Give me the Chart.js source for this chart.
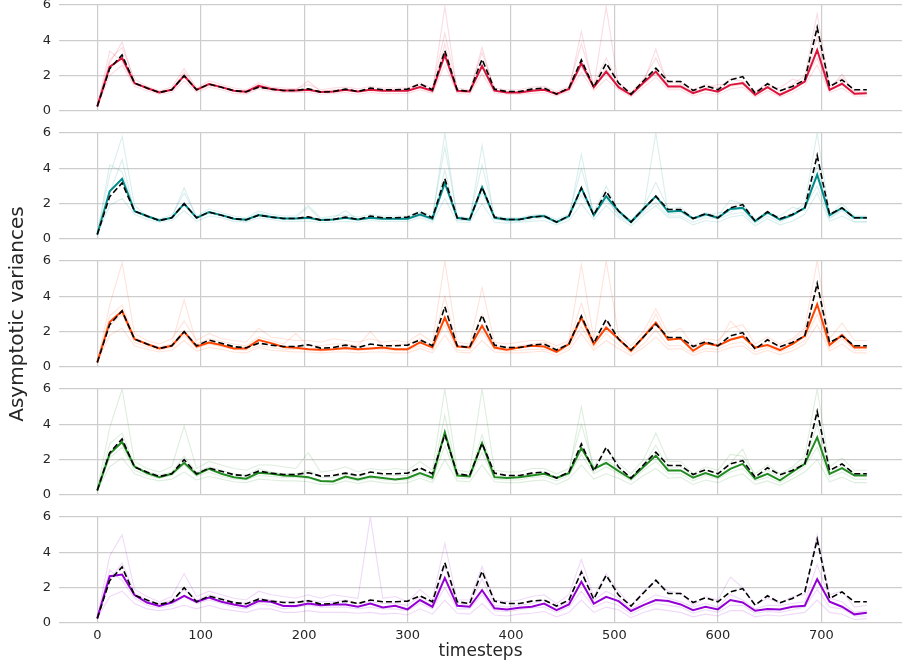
<!DOCTYPE html>
<html><head><meta charset="utf-8">
<script src="https://cdn.jsdelivr.net/npm/chart.js@4.4.1/dist/chart.umd.min.js"></script>
<style>
html,body{margin:0;padding:0;background:#fff;overflow:hidden;width:902px;height:670px;position:relative}
canvas{position:absolute;left:0;top:0}
</style></head><body>
<canvas id="c0" width="902" height="670"></canvas>
<canvas id="c1" width="902" height="670"></canvas>
<canvas id="c2" width="902" height="670"></canvas>
<canvas id="c3" width="902" height="670"></canvas>
<canvas id="c4" width="902" height="670"></canvas>
<script>
const timesteps = [0,12,24,36,48,60,72,84,96,108,
  120,132,144,156,168,180,192,204,216,228,
  240,252,264,276,288,300,312,324,336,348,
  360,372,384,396,408,420,432,444,456,468,
  480,492,504,516,528,540,552,564,576,588,
  600,612,624,636,648,660,672,684,696,708,
  720,732,744];
const xTicks = [0,100,200,300,400,500,600,700];
const yTicks = [0,2,4,6];

// true asymptotic variance (dashed black, same in every panel)
const trueVariance = [0.26,2.4,3.17,1.58,1.3,1.05,1.2,2.0,1.2,1.52,
  1.35,1.15,1.09,1.35,1.24,1.16,1.16,1.26,1.07,1.1,
  1.24,1.1,1.3,1.2,1.2,1.24,1.54,1.2,3.41,1.2,
  1.1,2.93,1.24,1.1,1.1,1.24,1.3,0.96,1.3,2.89,
  1.35,2.7,1.58,0.96,1.7,2.42,1.67,1.67,1.16,1.43,
  1.2,1.76,1.95,1.01,1.54,1.14,1.39,1.76,4.73,1.39,
  1.76,1.2,1.2];

// mean estimates per panel
const redMean = [0.26,2.5,3.0,1.58,1.3,1.05,1.2,2.0,1.2,1.52,
  1.35,1.15,1.09,1.42,1.24,1.16,1.16,1.2,1.07,1.1,
  1.2,1.1,1.2,1.15,1.15,1.15,1.35,1.15,3.17,1.15,
  1.1,2.55,1.15,1.05,1.05,1.15,1.2,0.96,1.25,2.7,
  1.35,2.23,1.35,0.92,1.6,2.23,1.39,1.39,1.01,1.24,
  1.09,1.48,1.58,0.92,1.35,0.92,1.24,1.67,3.45,1.2,
  1.54,0.98,1.01];
const tealMean = [0.26,2.7,3.41,1.58,1.3,1.05,1.2,2.0,1.2,1.52,
  1.35,1.15,1.09,1.35,1.24,1.16,1.16,1.2,1.07,1.1,
  1.2,1.1,1.2,1.15,1.15,1.15,1.39,1.15,3.17,1.2,
  1.1,2.93,1.2,1.1,1.1,1.24,1.3,0.96,1.3,2.89,
  1.35,2.42,1.58,0.96,1.7,2.42,1.54,1.6,1.16,1.4,
  1.2,1.7,1.76,1.01,1.5,1.1,1.35,1.76,3.64,1.35,
  1.76,1.2,1.2];
const orangeMean = [0.26,2.55,3.17,1.58,1.3,1.05,1.2,2.0,1.16,1.39,
  1.24,1.05,1.05,1.52,1.35,1.13,1.09,1.01,0.98,1.01,
  1.07,1.01,1.05,1.1,1.01,1.01,1.39,1.1,2.8,1.16,
  1.1,2.33,1.1,0.98,1.1,1.2,1.16,0.86,1.3,2.8,
  1.3,2.23,1.58,0.92,1.7,2.51,1.54,1.61,0.92,1.35,
  1.2,1.54,1.73,1.1,1.24,0.96,1.3,1.76,3.55,1.24,
  1.8,1.1,1.1];
const greenMean = [0.26,2.33,3.0,1.61,1.24,1.01,1.2,1.82,1.16,1.48,
  1.2,1.01,0.92,1.26,1.2,1.1,1.07,1.01,0.79,0.77,
  1.05,0.88,1.05,0.96,0.88,0.96,1.24,0.98,3.55,1.1,
  1.05,2.93,1.01,0.96,1.01,1.1,1.2,0.96,1.24,2.66,
  1.48,1.82,1.35,0.92,1.58,2.23,1.39,1.39,0.98,1.24,
  1.01,1.48,1.76,0.92,1.2,0.83,1.3,1.76,3.26,1.2,
  1.52,1.1,1.1];
const purpleMean = [0.26,2.65,2.74,1.58,1.16,0.96,1.16,1.54,1.2,1.44,
  1.2,1.05,0.92,1.24,1.2,0.96,0.96,1.1,1.01,1.05,
  1.05,0.92,1.1,0.88,0.98,0.77,1.3,0.92,2.55,0.98,
  0.92,1.86,0.83,0.77,0.86,0.92,1.1,0.73,1.05,2.33,
  1.1,1.48,1.24,0.68,1.01,1.3,1.24,1.05,0.73,0.92,
  0.77,1.3,1.16,0.69,0.79,0.77,0.92,0.98,2.48,1.2,
  0.92,0.49,0.58];

// individual runs (faint lines), estimated
const redRuns = [
 [0.3,2.9,3.6,1.8,1.4,1.15,1.35,2.4,1.3,1.7, 1.5,1.3,1.2,1.6,1.35,1.3,1.25,1.5,1.2,1.3, 1.35,1.25,1.4,1.3,1.3,1.3,1.6,1.3,4.4,1.3, 1.2,3.3,1.3,1.2,1.2,1.35,1.4,1.1,1.4,3.8, 1.5,3.0,1.6,1.05,1.8,3.0,1.6,1.6,1.2,1.5, 1.3,1.8,1.7,1.1,1.6,1.1,1.5,2.0,5.5,1.4, 1.9,1.1,1.2],
 [0.25,2.0,2.6,1.4,1.15,0.95,1.05,1.7,1.05,1.35, 1.2,1.0,0.95,1.25,1.1,1.05,1.05,1.05,0.95,1.0, 1.05,0.95,1.05,1.0,1.0,1.0,1.2,1.0,2.6,1.0, 0.95,2.1,1.0,0.95,0.95,1.0,1.05,0.85,1.1,2.2, 1.15,1.8,1.2,0.8,1.35,1.9,1.2,1.2,0.85,1.05, 0.95,1.25,1.35,0.8,1.15,0.8,1.05,1.45,2.6,1.05, 1.3,0.85,0.85],
 [0.28,2.7,3.9,1.6,1.25,1.1,1.2,2.2,1.25,1.55, 1.4,1.2,1.1,1.5,1.3,1.2,1.2,1.7,1.1,1.2, 1.2,1.1,1.25,1.2,1.15,1.2,1.5,1.1,5.9,1.1, 1.15,2.6,1.2,1.0,1.1,1.2,1.3,0.95,1.3,2.5, 1.4,5.9,1.4,0.95,1.6,3.5,1.4,1.5,1.1,1.3, 1.5,1.5,1.6,1.0,1.4,1.3,1.8,1.6,4.2,1.2, 2.1,1.0,1.1],
 [0.27,3.4,2.8,1.5,1.3,1.0,1.25,1.9,1.15,1.45, 1.3,1.1,1.0,1.35,1.2,1.1,1.1,1.15,1.05,1.05, 1.15,1.05,1.15,1.1,1.1,1.1,1.3,1.05,3.8,1.05, 1.05,3.6,1.1,1.05,1.0,1.1,1.2,0.9,1.2,4.5, 1.25,2.4,1.3,0.9,1.5,2.1,1.3,1.3,0.95,1.2, 1.15,1.4,1.5,0.9,1.3,0.95,1.3,1.8,3.0,1.15, 1.6,0.95,1.0]
];
const tealRuns = [
 [0.3,3.6,5.8,1.9,1.3,1.15,1.35,2.6,1.3,1.7, 1.5,1.3,1.2,1.6,1.4,1.3,1.3,1.9,1.2,1.3, 1.35,1.25,1.4,1.3,1.3,1.3,1.6,1.3,5.2,1.3, 1.2,4.2,1.3,1.2,1.2,1.35,1.4,1.1,1.4,4.0, 1.5,3.0,1.6,1.05,1.8,3.2,1.7,1.8,1.2,1.5, 1.3,2.2,2.0,1.1,1.6,1.1,1.5,2.0,6.0,1.4, 2.0,1.3,1.3],
 [0.25,1.9,2.3,1.4,1.1,0.95,1.05,1.6,1.0,1.3, 1.2,1.0,0.95,1.2,1.1,1.0,1.0,1.0,0.95,0.95, 1.0,0.95,1.05,1.0,1.0,1.0,1.2,0.95,2.3,0.95, 0.95,2.0,0.95,0.9,0.95,1.0,1.05,0.8,1.05,2.0, 1.1,1.9,1.2,0.75,1.35,1.9,1.2,1.2,0.8,1.05, 0.95,1.25,1.35,0.75,1.15,0.8,1.0,1.4,2.6,1.0, 1.3,0.95,0.95],
 [0.28,4.2,3.8,1.6,1.2,1.1,1.2,2.9,1.2,1.5, 1.4,1.2,1.1,1.5,1.3,1.2,1.2,1.8,1.1,1.2, 1.6,1.1,1.25,1.2,1.15,1.2,1.5,1.1,6.0,1.1, 1.15,2.6,1.2,1.0,1.1,1.2,1.3,0.95,1.3,2.5, 1.4,2.2,1.4,0.95,1.6,6.0,1.4,1.5,1.1,1.3, 1.5,1.5,1.9,1.0,1.4,1.3,1.8,1.6,4.2,1.2, 1.7,1.2,1.2],
 [0.27,2.6,4.5,1.5,1.3,1.0,1.25,1.9,1.15,1.45, 1.3,1.1,1.0,1.35,1.2,1.1,1.1,1.15,1.05,1.05, 1.15,1.05,1.15,1.1,1.1,1.1,1.3,1.05,3.9,1.05, 1.05,5.3,1.1,1.05,1.0,1.1,1.2,0.9,1.2,4.8, 1.25,2.4,1.3,0.9,1.5,2.1,1.3,1.3,0.95,1.2, 1.15,1.4,1.5,0.9,1.3,0.95,1.3,1.8,3.0,1.15, 1.6,1.0,1.0]
];
const orangeRuns = [
 [0.3,3.5,5.9,1.9,1.5,1.3,1.6,2.6,1.5,1.9, 1.6,1.5,1.4,2.2,1.7,1.6,1.5,1.5,1.4,1.6, 1.5,1.4,1.6,1.4,1.5,1.4,1.9,1.4,6.0,1.4, 1.3,4.5,1.4,1.3,1.4,1.5,1.5,1.2,1.5,5.8, 1.6,6.0,1.8,1.2,2.0,3.3,1.9,2.2,1.2,1.6, 1.5,2.2,2.4,1.3,1.7,1.3,1.6,2.2,6.0,1.6, 2.5,1.5,1.5],
 [0.25,1.8,2.2,1.2,1.0,0.85,0.95,1.5,0.9,1.1, 1.0,0.85,0.8,1.1,0.95,0.9,0.85,0.85,0.8,0.85, 0.85,0.8,0.85,0.85,0.8,0.8,1.05,0.8,1.8,0.85, 0.8,1.5,0.85,0.8,0.8,0.85,0.9,0.65,0.95,1.9, 0.95,1.5,1.05,0.65,1.1,1.7,1.0,1.05,0.65,0.9, 0.85,1.1,1.2,0.7,0.95,0.7,0.9,1.3,2.4,0.9, 1.3,0.8,0.8],
 [0.28,2.9,3.5,1.7,1.3,1.15,1.3,3.8,1.3,1.6, 1.45,1.3,1.2,1.7,1.5,1.3,1.9,1.2,1.2,1.3, 1.3,1.2,2.0,1.2,1.25,1.3,1.6,1.2,4.0,1.2, 1.2,3.0,1.2,1.1,1.2,1.3,1.4,1.0,1.4,3.6, 1.4,2.6,1.5,1.0,1.6,3.0,1.5,1.6,1.1,1.4, 1.3,2.6,1.9,1.0,1.5,1.1,1.5,2.0,4.5,1.3, 1.9,1.1,1.2],
 [0.27,2.3,3.0,1.4,1.15,0.95,1.1,1.8,1.05,1.3, 1.15,1.0,0.95,1.2,1.1,1.0,1.0,1.05,0.9,1.0, 1.0,0.95,1.0,1.0,0.95,0.95,1.2,0.95,2.4,0.95, 0.95,2.0,1.0,0.9,0.95,1.0,1.0,0.8,1.1,2.3, 1.1,1.9,1.25,0.8,1.3,2.1,1.2,1.2,0.8,1.05, 1.0,1.3,1.4,0.85,1.1,0.85,1.1,1.5,3.0,1.05, 1.6,0.95,0.95]
];
const greenRuns = [
 [0.3,3.8,6.0,1.9,1.5,1.3,1.6,3.9,1.5,1.9, 1.7,1.5,1.4,1.7,1.7,1.6,1.5,2.4,1.3,1.4, 1.6,1.3,1.5,1.4,1.5,1.4,1.9,1.4,6.0,1.4, 1.3,6.0,1.4,1.3,1.3,1.5,1.5,1.2,1.5,4.0, 1.6,2.6,1.8,1.2,2.0,3.5,1.9,1.9,1.2,1.6, 1.4,2.3,2.2,1.2,1.7,1.2,1.6,2.2,6.0,1.6, 2.1,1.4,1.4],
 [0.25,1.6,2.1,1.2,0.95,0.8,0.9,1.3,0.85,1.05, 0.9,0.75,0.7,0.9,0.85,0.8,0.8,0.75,0.6,0.6, 0.8,0.65,0.8,0.7,0.65,0.7,0.95,0.7,2.0,0.8, 0.75,1.7,0.75,0.7,0.7,0.8,0.85,0.6,0.9,1.7, 0.9,1.2,0.95,0.6,1.1,1.5,0.95,1.0,0.6,0.85, 0.7,1.0,1.2,0.6,0.8,0.55,0.9,1.3,2.0,0.75, 1.0,0.7,0.7],
 [0.28,2.9,3.5,1.7,1.3,1.15,1.3,2.2,1.3,1.6, 1.4,1.2,1.1,1.5,1.3,1.2,1.2,1.4,1.0,1.0, 1.2,1.0,1.3,1.1,1.1,1.1,1.5,1.1,4.5,1.2, 1.1,3.4,1.1,1.0,1.1,1.2,1.3,1.0,1.3,5.0, 1.3,2.0,1.5,1.0,1.7,2.8,1.5,1.6,1.1,1.4, 1.2,1.8,2.6,1.0,1.4,1.0,1.5,1.9,4.0,1.3, 1.7,1.2,1.2],
 [0.27,2.1,2.7,1.4,1.1,0.95,1.1,1.7,1.05,1.3, 1.05,0.9,0.85,1.1,1.05,1.0,1.0,0.95,0.75,0.75, 0.95,0.8,0.95,0.85,0.85,0.85,1.1,0.85,2.8,0.95, 0.95,2.4,0.9,0.85,0.85,1.0,1.05,0.8,1.1,2.3, 1.2,1.6,1.2,0.8,1.4,1.9,1.2,1.2,0.8,1.1, 0.9,1.3,1.5,0.8,1.0,0.7,1.1,1.6,2.7,1.0, 1.3,0.9,0.9]
];
const purpleRuns = [
 [0.3,3.8,5.0,1.9,1.5,1.2,1.5,2.8,1.5,1.8, 1.6,1.4,1.3,1.8,1.6,1.5,1.4,1.6,1.4,1.6, 1.5,1.4,6.0,1.4,1.5,1.2,1.9,1.3,4.5,1.3, 1.3,3.2,1.3,1.2,1.3,1.5,1.6,1.1,1.6,3.6, 1.5,2.8,1.8,1.0,1.8,2.4,1.8,1.7,1.0,1.5, 1.3,2.6,2.0,1.0,1.4,1.1,1.5,1.6,5.0,1.6, 1.8,0.9,1.0],
 [0.25,1.5,1.8,1.1,0.8,0.7,0.8,1.0,0.8,1.0, 0.8,0.7,0.6,0.8,0.8,0.6,0.6,0.7,0.6,0.6, 0.6,0.55,0.6,0.5,0.55,0.45,0.8,0.5,1.3,0.55, 0.5,1.1,0.45,0.4,0.5,0.55,0.65,0.35,0.6,1.3, 0.6,0.9,0.75,0.3,0.6,0.8,0.7,0.6,0.35,0.5, 0.4,0.7,0.7,0.35,0.45,0.4,0.5,0.6,1.3,0.6, 0.5,0.2,0.25],
 [0.28,2.4,3.4,1.7,1.3,1.1,1.3,1.9,1.3,1.6, 1.4,1.2,1.1,1.4,1.3,1.2,1.2,1.3,1.2,1.2, 1.3,1.1,1.2,1.1,1.1,1.0,1.5,1.1,3.2,1.1, 1.0,2.5,1.0,0.9,1.0,1.1,1.3,0.9,1.2,3.0, 1.3,1.8,1.4,0.8,1.2,1.6,1.4,1.2,0.9,1.1, 0.9,1.6,1.3,0.8,1.0,1.0,1.1,1.2,3.3,1.4, 1.2,0.6,0.7],
 [0.27,3.0,2.4,1.4,1.0,0.85,1.0,1.5,1.1,1.3, 1.1,0.9,0.8,1.1,1.0,0.8,0.9,1.0,0.9,0.9, 0.9,0.8,0.9,0.8,0.8,0.7,1.1,0.8,2.0,0.8, 0.8,1.6,0.7,0.65,0.75,0.85,0.9,0.6,0.9,1.8, 0.9,1.2,1.0,0.5,0.85,1.1,1.0,0.9,0.55,0.75, 0.6,1.0,1.0,0.55,0.65,0.6,0.75,0.9,1.9,0.9, 0.8,0.4,0.4]
];

const panelMeans = [redMean, tealMean, orangeMean, greenMean, purpleMean];
const panelRuns = [redRuns, tealRuns, orangeRuns, greenRuns, purpleRuns];
const panelRGB = [[220,20,60],[0,139,139],[255,69,0],[34,139,34],[148,0,211]];

const textColor = '#262626';
const gridColor = '#cdcdcd';
const fontFamily = '"DejaVu Sans", sans-serif';
const PAGE_H = 670, PLOT_H = 106, PANEL_STEP = 128, FIRST_TOP = 5;

function toXY(vals){ return vals.map((v,i)=>({x: timesteps[i], y: v})); }

function makeChart(k){
  const last = (k === 4);
  const rgb = panelRGB[k].join(',');
  const top = FIRST_TOP + PANEL_STEP * k;
  const xAxisH = PAGE_H - top - PLOT_H;
  const datasets = [
    {data: toXY(trueVariance), borderColor:'#000', borderWidth:1.6, borderDash:[6,3], order:0},
    {data: toXY(panelMeans[k]), borderColor:'rgb('+rgb+')', borderWidth:2, order:1}
  ];
  panelRuns[k].forEach(r => datasets.push({data: toXY(r), borderColor:'rgba('+rgb+',0.15)', borderWidth:1.1, order:2}));
  new Chart(document.getElementById('c'+k), {
    type:'line',
    data:{datasets},
    options:{
      responsive:false, animation:false, devicePixelRatio:1,
      layout:{padding:{top:top,left:0,right:0,bottom:0}},
      elements:{point:{radius:0, hoverRadius:0}, line:{tension:0, fill:false}},
      plugins:{legend:{display:false}, tooltip:{enabled:false}},
      events:[],
      scales:{
        x:{
          type:'linear', min:-37, max:778,
          afterBuildTicks: s => { s.ticks = xTicks.map(v => ({value:v})); },
          afterFit: s => { s.height = xAxisH; s.paddingLeft = 0; s.paddingRight = 0; },
          grid:{color:gridColor, lineWidth:1.2, drawTicks:false},
          border:{display:false},
          ticks:{display:last, padding:5, color:textColor, font:{family:fontFamily, size:13}},
          title:{display:last, text:'timesteps', color:textColor, padding:{top:0,bottom:8}, font:{family:fontFamily, size:17}}
        },
        y:{
          min:0, max:6,
          afterBuildTicks: s => { s.ticks = yTicks.map(v => ({value:v})); },
          afterFit: s => { s.width = 59; s.paddingTop = 0; s.paddingBottom = 0; },
          grid:{color:gridColor, lineWidth:1.2, drawTicks:false},
          border:{display:false},
          ticks:{padding:8, color:textColor, font:{family:fontFamily, size:13}},
          title:{display:k===2, text:'Asymptotic variances', color:textColor, padding:{top:6,bottom:4}, font:{family:fontFamily, size:20}}
        }
      }
    }
  });
}
for (let k = 0; k < 5; k++) makeChart(k);
</script>
</body></html>
